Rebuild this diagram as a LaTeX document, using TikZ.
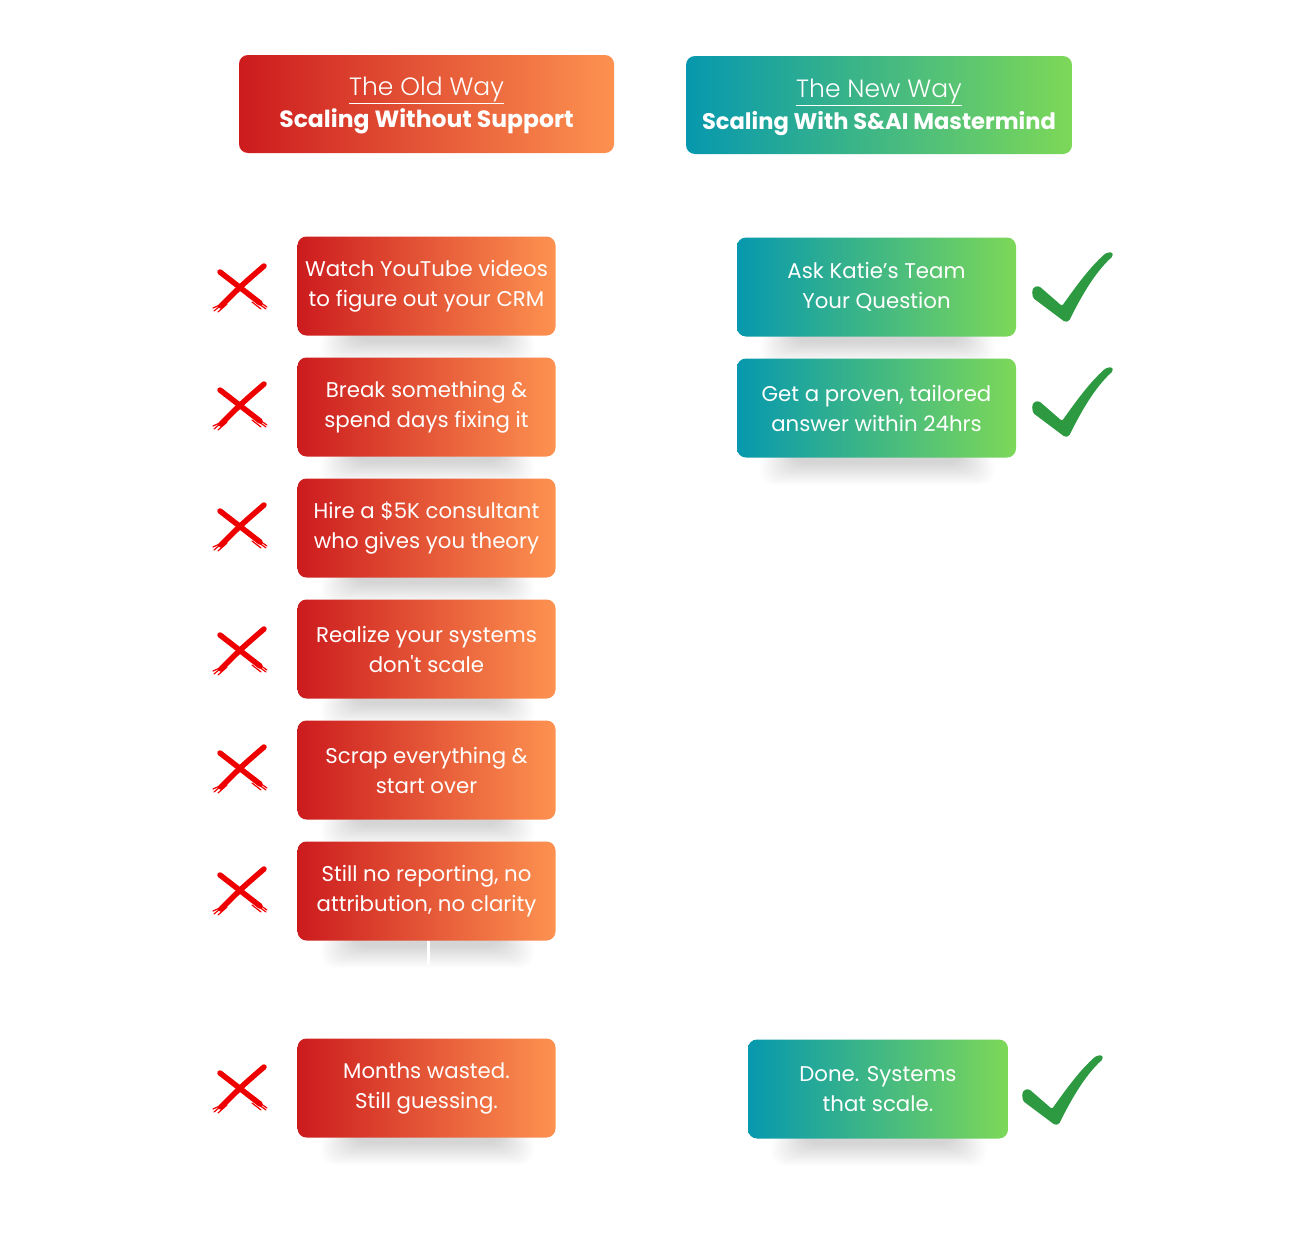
\documentclass[tikz,border=0pt]{standalone}
\usepackage{fontspec}
\setmainfont{Poppins}
\newfontfamily\poplight{Poppins Light}
\usetikzlibrary{calc}
\definecolor{rl}{HTML}{CC1B1E}
\definecolor{rr}{HTML}{FD9250}
\definecolor{gl}{HTML}{0698AE}
\definecolor{gr}{HTML}{7DD858}
\definecolor{chkgreen}{HTML}{2D9A42}
\definecolor{xred}{HTML}{EE0000}
% shadow under a box centred at coordinate #1 with width #2 (height 99)
\newcommand\shadowunder[2]{%
  \foreach \i in {0,...,13}{%
    \fill[black,opacity=0.013,rounded corners=12]
      ($(#1)+({-#2/2+24+2.6*\i},{49.5+27-1.6*\i})$) rectangle ($(#1)+({#2/2-22-2.6*\i},44)$);
  }}
\tikzset{
  box/.style={rounded corners=9pt, inner sep=0pt, text=white, align=center,
    font=\fontsize{21.3}{30}\selectfont, minimum height=99pt},
  oldbox/.style={box, left color=rl, right color=rr, minimum width=258pt},
  newbox/.style={box, left color=gl, right color=gr, minimum width=279pt},
  hdr/.style={rounded corners=9pt, inner sep=0pt, minimum height=98pt},
  hdrtext/.style={inner sep=0pt, text=white, align=center, font=\fontsize{23.5}{32}\selectfont},
  xmark/.pic={
    \draw[xred, line width=5.5pt, line cap=round] (-20,-17) .. controls (0,-2) .. (20,14);
    \draw[xred, line width=1.2pt, line cap=round] (14,9) -- (27,18) (15,12) -- (26,20) (12,13) -- (21,20);
    \draw[xred, line width=5.5pt, line cap=round] (24,-23) .. controls (2,-4) .. (-19,17);
    \draw[xred, line width=1.2pt, line cap=round] (-14,12) -- (-26,22) (-16,14) -- (-27,19) (-13,15) -- (-22,23);
  },
  chk/.pic={
    \fill[chkgreen, rounded corners=1.5pt] (-38,0) -- (-33,-1) -- (-10,19)
      .. controls (5,-2) and (18,-20) .. (34,-34) -- (40,-35) -- (41,-31)
      .. controls (22,-14) and (8,12) .. (-3,34) -- (-7,35) -- (-39,11) -- (-40,4) -- cycle;
  }
}
\begin{document}
\begin{tikzpicture}[x=1pt,y=-1pt]
\useasboundingbox (0,0) rectangle (1310,1250);
\fill[white] (0,0) rectangle (1310,1250);
% headers
\node[hdr, left color=rl, right color=rr, minimum width=375pt] (old) at (426.5,104) {};
\node[hdrtext] (oldtxt) at ($(old.center)+(0,1.5)$)
  {{\poplight\fontsize{25}{32}\selectfont\underline{The Old Way}}\\[0pt]\textbf{Scaling Without Support}};
\node[hdr, left color=gl, right color=gr, minimum width=386pt] (new) at (879,105) {};
\node[hdrtext, font=\fontsize{22.6}{32}\selectfont] (newtxt) at ($(new.center)+(0,2.5)$)
  {{\poplight\fontsize{25}{32}\selectfont\underline{The New Way}}\\[0pt]\textbf{Scaling With S\&AI Mastermind}};
% box positions
\coordinate (c1) at (426.5,286);
\coordinate (c2) at (426.5,407);
\coordinate (c3) at (426.5,528);
\coordinate (c4) at (426.5,649);
\coordinate (c5) at (426.5,770);
\coordinate (c6) at (426.5,891);
\coordinate (c7) at (426.5,1088);
\coordinate (d1) at (876.5,287);
\coordinate (d2) at (876.5,408);
\coordinate (d3) at (878,1089);
% shadows
\foreach \c/\w in {c1/258,c2/258,c3/258,c4/258,c5/258,c6/258,c7/258,d1/279,d2/279,d3/260}{
  \shadowunder{\c}{\w}
}
% left boxes
\path (c1) node[oldbox] (b1) {Watch YouTube videos\\to figure out your CRM};
\path (c2) node[oldbox] (b2) {Break something \&\\spend days fixing it};
\path (c3) node[oldbox] (b3) {Hire a \$5K consultant\\who gives you theory};
\path (c4) node[oldbox] (b4) {Realize your systems\\don\textquotesingle t scale};
\path (c5) node[oldbox] (b5) {Scrap everything \&\\start over};
\path (c6) node[oldbox] (b6) {Still no reporting, no\\attribution, no clarity};
\path (c7) node[oldbox] (b7) {Months wasted.\\Still guessing.};
% right boxes
\path (d1) node[newbox] (n1) {Ask Katie’s Team\\Your Question};
\path (d2) node[newbox] (n2) {Get a proven, tailored\\answer within 24hrs};
\path (d3) node[newbox, minimum width=260pt] (n3) {Done. Systems\\that scale.};
% white gap line
\coordinate (w6) at ($(b6.south)+(1.5,24)$);
\draw[white, line width=3pt] ($(b6.south)+(1.5,0)$) -- (w6);
% marks
\foreach \y in {289,407,528,652,770,892,1090}{\pic at (240,\y) {xmark};}
\pic at (1072,287) {chk};
\pic at (1072,402) {chk};
\pic at (1062,1090) {chk};
\end{tikzpicture}
\end{document}
